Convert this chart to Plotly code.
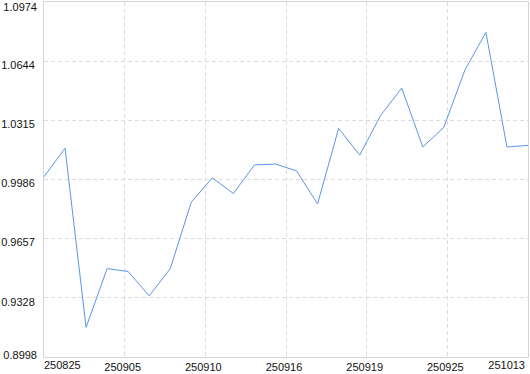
import numpy as np
import plotly.graph_objects as go

# Data
values = [1.0001, 1.0160, 0.9163, 0.9490, 0.9474, 0.9338, 0.9490, 0.9860,
          0.9995, 0.9908, 1.0067, 1.0072, 1.0034, 0.9850, 1.0270, 1.0122,
          1.0343, 1.0495, 1.0167, 1.0277, 1.0595, 1.0805, 1.0167, 1.0176]
x_tick_labels = ["250825", "250905", "250910", "250916", "250919", "250925", "251013"]
y_tick_values = [0.8998, 0.9328, 0.9657, 0.9986, 1.0315, 1.0644, 1.0974]
y_tick_labels = ["0.8998", "0.9328", "0.9657", "0.9986", "1.0315", "1.0644", "1.0974"]

x = list(range(len(values)))
x_range = [0, len(values) - 1]
y_range = [y_tick_values[0], y_tick_values[-1]]
x_ticks = list(np.linspace(x_range[0], x_range[1], len(x_tick_labels)))

LINE_COLOR = "#5a96e8"
GRID = "#dcdcdc"
AXIS = "#d4d4d4"
FONT = dict(family="Liberation Sans, Arial, sans-serif", size=11, color="#111111")

fig = go.Figure()
fig.add_trace(go.Scatter(x=x, y=values, mode="lines",
                         line=dict(color=LINE_COLOR, width=1),
                         hoverinfo="x+y", showlegend=False))
# invisible helpers so that the overlay axes (edge labels) are drawn
fig.add_trace(go.Scatter(x=[x[0]], y=[values[0]], xaxis="x2", yaxis="y2", mode="markers",
                         marker=dict(opacity=0), hoverinfo="skip", showlegend=False))
fig.add_trace(go.Scatter(x=[x[-1]], y=[values[-1]], xaxis="x3", yaxis="y3", mode="markers",
                         marker=dict(opacity=0), hoverinfo="skip", showlegend=False))

common_x = dict(range=x_range, showgrid=False, zeroline=False, ticks="", tickfont=FONT,
                showline=False, fixedrange=True)
common_y = dict(range=y_range, showgrid=False, zeroline=False, ticks="", tickfont=FONT,
                showline=False, fixedrange=True)

fig.update_layout(
    width=530, height=374,
    margin=dict(l=44, r=2, t=1, b=13, pad=0),
    paper_bgcolor="white", plot_bgcolor="white",
    xaxis=dict(range=x_range, tickmode="array", tickvals=x_ticks[1:-1],
               ticktext=x_tick_labels[1:-1], showgrid=True, gridcolor=GRID,
               griddash="4px,3px", gridwidth=1, zeroline=False, ticks="",
               showline=True, linecolor=AXIS, linewidth=1, mirror=True,
               tickfont=FONT, ticklabelshift=-2, fixedrange=True),
    yaxis=dict(range=y_range, tickmode="array", tickvals=y_tick_values[1:-1],
               ticktext=y_tick_labels[1:-1], showgrid=True, gridcolor=GRID,
               griddash="4px,3px", gridwidth=1, zeroline=False, ticks="",
               showline=True, linecolor=AXIS, linewidth=1, mirror=True,
               tickfont=FONT, ticklabelshift=4, ticklabelstandoff=6, fixedrange=True),
    xaxis2=dict(common_x, overlaying="x", anchor="y2", side="bottom", tickmode="array",
                tickvals=[x_ticks[0]], ticktext=[x_tick_labels[0]],
                ticklabelposition="outside right"),
    yaxis2=dict(common_y, overlaying="y", anchor="x2", side="left", tickmode="array",
                tickvals=[y_tick_values[-1]], ticktext=[y_tick_labels[-1]],
                ticklabelposition="outside bottom", ticklabelstandoff=6, ticklabelshift=-3),
    xaxis3=dict(common_x, overlaying="x", anchor="y3", side="bottom", tickmode="array",
                tickvals=[x_ticks[-1]], ticktext=[x_tick_labels[-1]],
                ticklabelposition="outside left", ticklabelshift=-3),
    yaxis3=dict(common_y, overlaying="y", anchor="x3", side="left", tickmode="array",
                tickvals=[y_tick_values[0]], ticktext=[y_tick_labels[0]],
                ticklabelposition="outside top", ticklabelstandoff=6, ticklabelshift=6),
)

fig.write_html("out.html")
